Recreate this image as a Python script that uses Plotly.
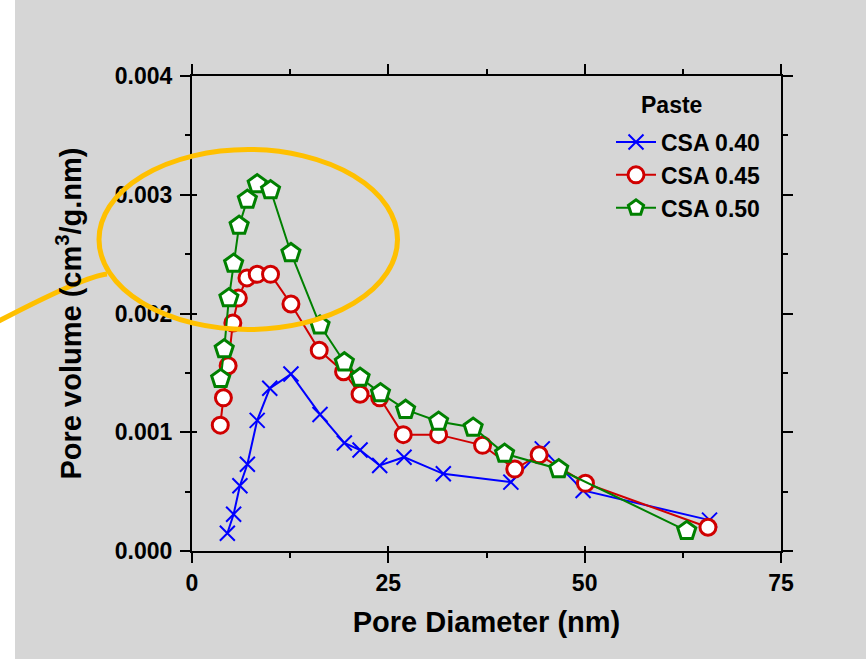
import plotly.graph_objects as go

# Pore size distribution of CSA pastes at three water/cement ratios
d_040 = [4.5, 5.3, 6.1, 7.05, 8.3, 9.9, 12.6, 16.3, 19.4, 21.4, 23.9, 27.0, 32.0, 40.6, 44.6, 49.8, 65.9]
v_040 = [0.00015, 0.00031, 0.00055, 0.00073, 0.00110, 0.00137, 0.00149, 0.00115, 0.00091, 0.00085,
         0.00072, 0.00079, 0.00065, 0.00058, 0.00086, 0.00051, 0.00026]

d_045 = [3.6, 4.0, 4.6, 5.2, 5.9, 7.0, 8.3, 10.0, 12.6, 16.2, 19.3, 21.4, 23.9, 26.9, 31.4, 37.0,
         41.1, 44.2, 50.1, 65.7]
v_045 = [0.00106, 0.00129, 0.00156, 0.00192, 0.00213, 0.00230, 0.00233, 0.00233, 0.00208, 0.00169,
         0.00151, 0.00132, 0.00129, 0.00098, 0.00098, 0.00089, 0.00069, 0.00081, 0.00057, 0.00020]

d_050 = [3.65, 4.1, 4.7, 5.3, 6.0, 7.05, 8.3, 10.0, 12.6, 16.3, 19.4, 21.4, 24.0, 27.2, 31.4, 35.8,
         39.8, 46.7, 63.0]
v_050 = [0.00145, 0.00170, 0.00213, 0.00242, 0.00274, 0.00296, 0.00309, 0.00304, 0.00251, 0.00190,
         0.00159, 0.00146, 0.00133, 0.00119, 0.00109, 0.00104, 0.00082, 0.00069, 0.00017]

series_names = ["CSA 0.40", "CSA 0.45", "CSA 0.50"]
legend_title = "Paste"
x_range = [0, 75]
y_range = [0, 0.004]

BG = "rgb(214,214,214)"
FONT = "Liberation Sans, Arial, sans-serif"
ORANGE = "#FFC000"

fig = go.Figure()

fig.add_trace(go.Scatter(
    x=d_040, y=v_040, name=series_names[0], mode="lines+markers",
    line=dict(color="#0000FF", width=2),
    marker=dict(symbol="x-thin-open", size=15, color="#0000FF", line=dict(color="#0000FF", width=2)),
))
fig.add_trace(go.Scatter(
    x=d_045, y=v_045, name=series_names[1], mode="lines+markers",
    line=dict(color="#D00000", width=2),
    marker=dict(symbol="circle", size=16, color="white", line=dict(color="#D00000", width=3)),
))
fig.add_trace(go.Scatter(
    x=d_050, y=v_050, name=series_names[2], mode="lines+markers",
    line=dict(color="#008000", width=2),
    marker=dict(symbol="pentagon", size=19, color="white", line=dict(color="#008000", width=3)),
))
# empty trace that carries the inner tick overlay axes
fig.add_trace(go.Scatter(x=[], y=[], xaxis="x2", yaxis="y2", showlegend=False, hoverinfo="skip"))

tick_font = dict(family=FONT, size=23, color="black", weight="bold")
title_font = dict(family=FONT, size=29, color="black", weight="bold")

# page geometry in pixels -> paper coordinates
PL, PR, PT, PB = 192, 781, 76, 551


def px(x):
    return (x - PL) / (PR - PL)


def py(y):
    return (PB - y) / (PB - PT)


fig.update_layout(
    width=866, height=659,
    margin=dict(l=192, r=85, t=76, b=108),
    paper_bgcolor=BG, plot_bgcolor=BG,
    font=dict(family=FONT, color="black"),
    showlegend=True,
    legend=dict(
        x=px(611), y=py(120.5), xanchor="left", yanchor="top",
        bgcolor="rgba(0,0,0,0)", itemwidth=40,
        font=dict(family=FONT, size=23, color="black", weight="bold"),
    ),
    xaxis=dict(
        range=x_range, dtick=25, tick0=0,
        showgrid=False, zeroline=False,
        showline=True, linecolor="black", linewidth=2, mirror="ticks",
        ticks="outside", ticklen=10, tickwidth=2, tickcolor="black",
        minor=dict(ticks="outside", dtick=12.5, ticklen=5, tickwidth=2, tickcolor="black"),
        tickfont=tick_font,
        title=dict(text="Pore Diameter (nm)", font=title_font, standoff=17),
    ),
    yaxis=dict(
        range=y_range, dtick=0.001, tick0=0, tickformat=".3f",
        showgrid=False, zeroline=False,
        showline=True, linecolor="black", linewidth=2, mirror="ticks",
        ticks="outside", ticklen=10, tickwidth=2, tickcolor="black",
        minor=dict(ticks="outside", dtick=0.0005, ticklen=5, tickwidth=2, tickcolor="black"),
        tickfont=tick_font, ticklabelstandoff=3,
        title=dict(text="Pore volume (cm<sup>3</sup>/g.nm)", font=title_font, standoff=25),
    ),
    xaxis2=dict(
        range=x_range, dtick=25, tick0=0, overlaying="x", side="bottom", anchor="y2",
        showgrid=False, zeroline=False, showline=False, showticklabels=False,
        ticks="inside", ticklen=5, tickwidth=2, tickcolor="black",
    ),
    yaxis2=dict(
        range=y_range, dtick=0.001, tick0=0, overlaying="y", side="left", anchor="x2",
        showgrid=False, zeroline=False, showline=False, showticklabels=False,
        ticks="inside", ticklen=5, tickwidth=2, tickcolor="black",
    ),
    annotations=[
        dict(text=legend_title, xref="paper", yref="paper", x=px(671), y=py(105),
             xanchor="center", yanchor="middle", showarrow=False,
             font=dict(family=FONT, size=23, color="black", weight="bold")),
    ],
)

shapes = [
    # white strip along the left page edge
    dict(type="rect", xref="paper", yref="paper", layer="below",
         x0=px(-5), x1=px(15), y0=py(665), y1=py(-5),
         fillcolor="white", line=dict(width=0)),
    # highlight ellipse around the peak region
    dict(type="circle", xref="paper", yref="paper", layer="above",
         x0=px(99), x1=px(397.5), y0=py(329.5), y1=py(149.5),
         line=dict(color=ORANGE, width=5)),
    # callout tail
    dict(type="path", xref="paper", yref="paper", layer="above",
         path=f"M{px(107)},{py(274)} Q{px(85)},{py(276)} {px(-3)},{py(322)}",
         line=dict(color=ORANGE, width=5)),
]
fig.update_layout(shapes=shapes)

fig.write_html("out.html")
